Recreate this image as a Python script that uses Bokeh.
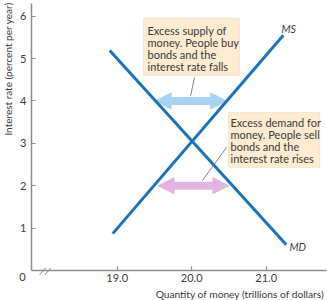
import numpy as np
from bokeh.plotting import figure
from bokeh.models import (Label, Arrow, NormalHead, BoxAnnotation, FixedTicker,
                          ColumnDataSource)
from bokeh.core.properties import value
from bokeh.embed import file_html
from bokeh.resources import INLINE

# ---- data ----
ms_x = [18.94, 21.23]
ms_y = [0.87, 5.55]
md_x = [18.90, 21.27]
md_y = [5.19, 0.61]
x_ticks = [19.0, 20.0, 21.0]
x_tick_labels = ["19.0", "20.0", "21.0"]
y_ticks = [1, 2, 3, 4, 5, 6]
supply_arrow_x = [19.51, 20.47]   # excess supply arrow at rate 4
supply_arrow_y = 4.0
demand_arrow_x = [19.55, 20.50]   # excess demand arrow at rate 2
demand_arrow_y = 2.0
note_supply = ["Excess supply of", "money. People buy", "bonds and the", "interest rate falls"]
note_demand = ["Excess demand for", "money. People sell", "bonds and the", "interest rate rises"]

FONT = "Lato"
BLUE = "#1b72b8"
AXIS = "#8c8c8c"
TXT = "#3a3a3a"

X0, Y0 = 17.85, 0.0          # axis origin
PX_X, PX_Y = 74.5, 42.38     # pixels per unit

p = figure(width=327, height=300, output_backend="svg", toolbar_location=None,
           x_range=(X0 - 31 / PX_X, X0 + 296 / PX_X),
           y_range=(-30 / PX_Y, 270 / PX_Y), min_border=0)
p.outline_line_color = None
p.grid.visible = False
p.background_fill_color = "white"

for ax in (p.xaxis[0], p.yaxis[0]):
    ax.axis_line_color = AXIS
    ax.axis_line_width = 1.5
    ax.major_tick_line_color = AXIS
    ax.major_tick_line_width = 1.2
    ax.major_tick_in = 4
    ax.major_tick_out = 0
    ax.minor_tick_line_color = None
    ax.major_label_text_font = FONT
    ax.major_label_text_font_size = "11px"
    ax.major_label_text_color = TXT

p.xaxis.fixed_location = Y0
p.xaxis.bounds = (X0, X0 + 295 / PX_X)
p.xaxis.ticker = FixedTicker(ticks=x_ticks)
p.xaxis.major_label_overrides = {t: l for t, l in zip(x_ticks, x_tick_labels)}
p.xaxis.major_label_standoff = 3
p.yaxis.fixed_location = X0
p.yaxis.bounds = (Y0, 6.3)
p.yaxis.ticker = FixedTicker(ticks=y_ticks)
p.yaxis.major_label_standoff = 5

# note boxes
for l, r, t, b in ((19.353, 20.641, 5.95, 4.60), (20.494, 21.72, 3.728, 2.43)):
    p.add_layout(BoxAnnotation(left=l, right=r, top=t, bottom=b,
                               fill_color="#fdebd2", fill_alpha=1.0,
                               line_color="#e3c69a", line_width=1, level="underlay"))

# arrows (under the lines)
for xs, yv, col in ((supply_arrow_x, supply_arrow_y, "#a8d2f0"),
                    (demand_arrow_x, demand_arrow_y, "#e2b4e0")):
    arr = Arrow(x_start=xs[0], y_start=yv, x_end=xs[1], y_end=yv,
                line_color=col, line_width=8,
                start=NormalHead(size=16, fill_color=col, line_color=col, line_width=1),
                end=NormalHead(size=16, fill_color=col, line_color=col, line_width=1),
                level="underlay")
    p.add_layout(arr)

# curves
p.line(ms_x, ms_y, line_color=BLUE, line_width=3)
p.line(md_x, md_y, line_color=BLUE, line_width=3)

# leader lines
p.segment(x0=[20.038, 20.467], y0=[4.554, 2.902], x1=[19.984, 20.145], y1=[4.113, 2.124],
          line_color="#666666", line_width=0.8)

def note(lines, x0, ytop):
    step = 12 / PX_Y
    src = ColumnDataSource(dict(x=[x0] * len(lines),
                                y=[ytop - i * step for i in range(len(lines))],
                                t=lines))
    p.text(x="x", y="y", text="t", source=src, text_font=value(FONT),
           text_font_size="11px", text_color=TXT, text_baseline="middle",
           text_align="left")

note(note_supply, 19.407, 5.663)
note(note_demand, 20.521, 3.492)

# curve labels
p.add_layout(Label(x=21.206, y=5.71, text="MS", text_font=FONT, text_font_size="10.5px",
                   text_font_style="italic", text_color=TXT, text_baseline="middle"))
p.add_layout(Label(x=21.313, y=0.543, text="MD", text_font=FONT, text_font_size="10.5px",
                   text_font_style="italic", text_color=TXT, text_baseline="middle"))

# axis titles and origin
p.add_layout(Label(x=17.541, y=6.324, text="Interest rate (percent per year)", angle=np.pi / 2,
                   text_font=FONT, text_font_size="10px", text_color=TXT,
                   text_align="right", text_baseline="middle"))
p.add_layout(Label(x=21.783, y=-0.543, text="Quantity of money (trillions of dollars)",
                   text_font=FONT, text_font_size="10.2px", text_color=TXT,
                   text_align="right", text_baseline="middle"))
p.add_layout(Label(x=17.729, y=-0.165, text="0", text_font=FONT, text_font_size="11px",
                   text_color=TXT, text_align="center", text_baseline="middle"))

# axis break marks
p.segment(x0=[17.96, 18.03], y0=[-0.10, -0.10], x1=[18.04, 18.11], y1=[0.06, 0.06],
          line_color=AXIS, line_width=1)

open("out.html", "w").write(file_html(p, INLINE))
